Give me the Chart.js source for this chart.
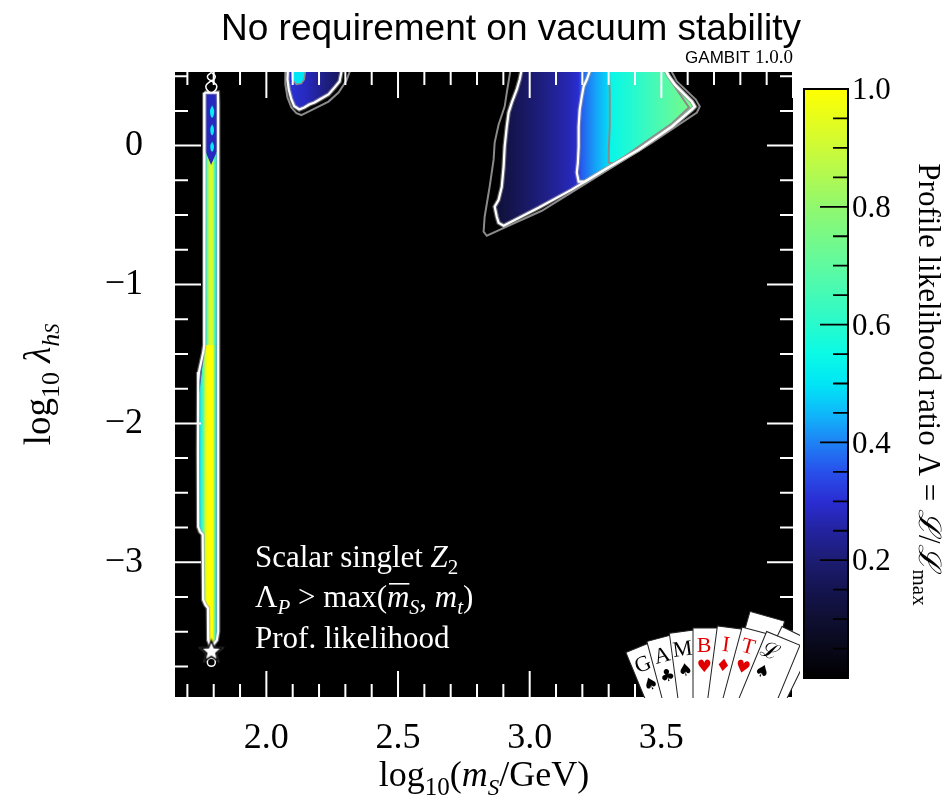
<!DOCTYPE html>
<html>
<head>
<meta charset="utf-8">
<script src="https://cdn.jsdelivr.net/npm/chart.js"></script>
<style>
  html, body { margin: 0; padding: 0; background: #fff; }
  #wrap { width: 944px; height: 801px; }
</style>
</head>
<body>
<div id="wrap"><canvas id="plot" width="944" height="801"></canvas></div>
<script>
// axes
const xRange = [1.653, 4.0];
const yRange = [-3.97, 0.53];
const xMajorTicks = [2.0, 2.5, 3.0, 3.5];
const xTickLabels = ['2.0', '2.5', '3.0', '3.5'];
const yMajorTicks = [0, -1, -2, -3];
const yTickLabels = ['0', '\u22121', '\u22122', '\u22123'];
const cbarTicks = [0.2, 0.4, 0.6, 0.8, 1.0];
const cbarTickLabels = ['0.2', '0.4', '0.6', '0.8', '1.0'];

// colour map: likelihood ratio -> rgb
const cmapStops = [
  [0.00, [0, 0, 0]], [0.05, [8, 8, 25]], [0.10, [15, 15, 50]], [0.15, [20, 20, 80]],
  [0.20, [28, 28, 115]], [0.25, [35, 35, 160]], [0.30, [42, 45, 210]], [0.35, [40, 80, 235]],
  [0.40, [30, 130, 245]], [0.45, [15, 185, 250]], [0.50, [0, 230, 245]], [0.55, [10, 250, 230]],
  [0.60, [40, 250, 205]], [0.70, [95, 250, 160]], [0.80, [145, 248, 110]], [0.90, [205, 250, 55]],
  [1.00, [255, 255, 0]]
];

// big region at high mass (log10 mS, log10 lambda)
const triOuterGray = [[2.932,0.6],[2.913,0.382],[2.905,0.281],[2.882,0.152],[2.867,0.022],[2.863,-0.101],
  [2.848,-0.296],[2.829,-0.512],[2.825,-0.620],[2.837,-0.649],[2.894,-0.599],[3.046,-0.469],[3.274,-0.202],
  [3.464,0.022],[3.635,0.238],[3.646,0.281],[3.631,0.332],[3.559,0.462],[3.52,0.6]];
const triOuterWhite = [[2.975,0.6],[2.962,0.476],[2.951,0.404],[2.932,0.310],[2.920,0.238],[2.913,0.137],
  [2.905,-0.007],[2.901,-0.152],[2.894,-0.296],[2.882,-0.390],[2.867,-0.440],[2.875,-0.512],[2.882,-0.556],
  [2.901,-0.577],[3.034,-0.447],[3.160,-0.317],[3.285,-0.173],[3.414,-0.029],[3.540,0.137],[3.616,0.260],
  [3.627,0.281],[3.616,0.317],[3.551,0.440],[3.529,0.498],[3.50,0.6]];
const triInnerWhite = [[3.24,0.6],[3.217,0.476],[3.205,0.426],[3.198,0.354],[3.190,0.260],[3.186,0.137],
  [3.186,-0.007],[3.183,-0.123],[3.179,-0.195],[3.186,-0.260],[3.209,-0.260],[3.285,-0.173],[3.414,-0.029],
  [3.540,0.137],[3.616,0.260],[3.627,0.281],[3.616,0.317],[3.551,0.440],[3.529,0.498],[3.50,0.6]];
const triInnerGray = [[3.300,0.6],[3.304,0.382],[3.304,0.137],[3.300,-0.051],[3.300,-0.123],[3.323,-0.130],
  [3.414,-0.007],[3.540,0.159],[3.605,0.274],[3.551,0.426],[3.50,0.6]];
const triProfile = [[2.89,0.12],[2.97,0.17],[3.06,0.22],[3.15,0.27],[3.185,0.30],[3.195,0.36],[3.25,0.43],
  [3.295,0.48],[3.305,0.54],[3.40,0.60],[3.50,0.67],[3.63,0.76]];

// small region near 2.1-2.3
const blobWhite = [[2.083,0.6],[2.080,0.476],[2.085,0.404],[2.095,0.332],[2.106,0.284],[2.125,0.260],
  [2.144,0.274],[2.163,0.296],[2.183,0.310],[2.209,0.339],[2.236,0.368],[2.259,0.418],[2.278,0.462],[2.292,0.6]];
const blobGray = [[2.072,0.6],[2.072,0.440],[2.080,0.346],[2.095,0.274],[2.114,0.234],[2.133,0.220],
  [2.160,0.245],[2.198,0.281],[2.236,0.317],[2.274,0.382],[2.304,0.469],[2.330,0.6]];
const blobSpot = [[2.094,0.6],[2.098,0.476],[2.114,0.440],[2.133,0.447],[2.144,0.476],[2.153,0.6]];
const blobProfile = [[2.08,0.31],[2.15,0.28],[2.22,0.22],[2.29,0.16]];
const blobSpotLevel = 0.5;

// Higgs funnel strip
const stripOutline = [[1.765,0.382],[1.764,0.30],[1.764,-1.436],[1.760,-1.49],[1.752,-1.56],[1.744,-1.63],
  [1.741,-1.70],[1.740,-2.20],[1.741,-2.745],[1.748,-2.780],[1.758,-2.800],[1.760,-3.270],[1.768,-3.305],
  [1.778,-3.330],[1.779,-3.560],[1.785,-3.590],[1.800,-3.590],[1.812,-3.560],[1.817,-3.50],[1.817,0.30],[1.816,0.382]];
const stripUpper = [[1.764,0.382],[1.764,-1.436],[1.817,-1.436],[1.817,0.382]];
const stripLower = [[1.764,-1.436],[1.760,-1.49],[1.752,-1.56],[1.744,-1.63],[1.741,-1.70],[1.740,-2.20],
  [1.741,-2.745],[1.748,-2.780],[1.758,-2.800],[1.760,-3.270],[1.768,-3.305],[1.778,-3.330],[1.779,-3.560],
  [1.785,-3.590],[1.800,-3.590],[1.812,-3.560],[1.817,-3.50],[1.817,-1.436]];
const stripUpperProfile = [[1.764,0.5],[1.772,0.62],[1.782,0.88],[1.791,0.95],[1.798,0.88],[1.804,0.62],[1.810,0.5],[1.817,0.4]];
const stripLowerProfile = [[1.741,0.45],[1.752,0.55],[1.762,0.75],[1.770,0.95],[1.778,1.0],[1.796,1.0],[1.802,0.78],[1.808,0.52],[1.817,0.38]];
const stripPatch = [[1.764,-1.42],[1.758,-1.50],[1.750,-1.58],[1.743,-1.66],[1.743,-1.80],[1.748,-1.74],[1.755,-1.62],[1.762,-1.52]];
const stripPatchLevel = 0.25;
const stripBeads = [[1.765,0.382],[1.764,-0.02],[1.790,-0.14],[1.817,-0.02],[1.816,0.382]];
const stripBeadLevel = 0.28;
const beadCores = [
  [[1.794,0.29],[1.802,0.245],[1.794,0.20],[1.786,0.245]],
  [[1.794,0.155],[1.801,0.115],[1.794,0.075],[1.787,0.115]],
  [[1.794,0.03],[1.801,-0.007],[1.794,-0.045],[1.787,-0.007]]
];
const beadCoreLevel = 0.52;
const topRings = [
  [[1.791,0.527],[1.806,0.498],[1.791,0.469],[1.776,0.498]],
  [[1.791,0.469],[1.812,0.426],[1.791,0.383],[1.770,0.426]]
];
const bestFit = [1.791, -3.636];
const meanPoint = [1.791, -3.72];

function cmap(v) {
  for (let i = 1; i < cmapStops.length; i++) {
    const [v1, c1] = cmapStops[i], [v0, c0] = cmapStops[i - 1];
    if (v <= v1) {
      const t = (v - v0) / (v1 - v0);
      return 'rgb(' + c0.map((c, k) => Math.round(c + (c1[k] - c) * t)).join(',') + ')';
    }
  }
  return 'rgb(255,255,0)';
}

function profileFill(profile) {
  return (c) => {
    const chart = c.chart;
    if (!chart.chartArea) return 'rgba(0,0,0,0)';
    const sx = chart.scales.x;
    const x0 = sx.getPixelForValue(profile[0][0]);
    const x1 = sx.getPixelForValue(profile[profile.length - 1][0]);
    const g = chart.ctx.createLinearGradient(x0, 0, x1, 0);
    profile.forEach(([xv, lv]) => g.addColorStop((sx.getPixelForValue(xv) - x0) / (x1 - x0), cmap(lv)));
    return g;
  };
}

const pts = poly => poly.concat([poly[0]]).map(([x, y]) => ({x, y}));
const fillSet = (poly, color, tension) => ({
  data: pts(poly), showLine: true, fill: 'shape', backgroundColor: color,
  borderColor: 'rgba(0,0,0,0)', borderWidth: 0, pointRadius: 0, tension: tension || 0
});
const lineSet = (poly, color, width) => ({
  data: pts(poly), showLine: true, fill: false, borderColor: color, borderWidth: width, pointRadius: 0
});

const white = '#ffffff', gray = '#8a8a8a', halo = 'rgba(160,160,160,0.55)';
const datasets = [
  fillSet(triOuterWhite, profileFill(triProfile)),
  fillSet(blobWhite, profileFill(blobProfile)),
  fillSet(blobSpot, cmap(blobSpotLevel)),
  fillSet(stripUpper, profileFill(stripUpperProfile)),
  fillSet(stripLower, profileFill(stripLowerProfile)),
  fillSet(stripPatch, cmap(stripPatchLevel), 0.3),
  fillSet(stripBeads, cmap(stripBeadLevel)),
  ...beadCores.map(b => fillSet(b, cmap(beadCoreLevel), 0.5)),
  lineSet(triOuterGray, gray, 2),
  lineSet(triInnerGray, gray, 2),
  lineSet(blobGray, gray, 2),
  lineSet(blobSpot, gray, 1.5),
  ...[triOuterWhite, triInnerWhite, blobWhite, stripOutline].map(p => lineSet(p, halo, 4.5)),
  ...[triOuterWhite, triInnerWhite, blobWhite, stripOutline].map(p => lineSet(p, white, 2.2)),
  ...topRings.map(r => Object.assign(fillSet(r, '#000', 0.5), {borderColor: white, borderWidth: 1.5}))
];

// best fit star
const star = document.createElement('canvas');
star.width = 30; star.height = 30;
(function () {
  const c = star.getContext('2d');
  const path = (r) => {
    c.beginPath();
    for (let k = 0; k < 10; k++) {
      const a = -Math.PI / 2 + k * Math.PI / 5, rr = k % 2 ? r * 0.45 : r;
      c.lineTo(15 + rr * Math.cos(a), 16 + rr * Math.sin(a));
    }
    c.closePath();
  };
  path(14); c.fillStyle = 'rgba(90,90,90,0.7)'; c.fill();
  path(10.5); c.fillStyle = '#fff'; c.fill(); c.strokeStyle = '#000'; c.lineWidth = 1.2; c.stroke();
})();
datasets.push({data: [{x: meanPoint[0], y: meanPoint[1]}], pointStyle: 'circle', pointRadius: 4,
  backgroundColor: '#000', borderColor: '#fff', borderWidth: 1.5, showLine: false});
datasets.push({data: [{x: bestFit[0], y: bestFit[1]}], pointStyle: star, pointRadius: 10, showLine: false});
datasets.forEach((d, i) => { d.order = datasets.length - i; });

const serif = '"Liberation Serif", "DejaVu Serif", serif';
const R = s => s + 'px ' + serif;
const I = s => 'italic ' + s + 'px ' + serif;

function drawRich(ctx, parts, x, y, align) {
  let w = 0;
  parts.forEach(p => { ctx.font = p[1]; w += ctx.measureText(p[0]).width; });
  let cx = align === 'center' ? x - w / 2 : x;
  parts.forEach(p => {
    ctx.font = p[1];
    const pw = ctx.measureText(p[0]).width;
    ctx.fillText(p[0], cx, y + (p[2] || 0));
    if (p[3] === 'ov') {
      ctx.fillRect(cx + 2, y - 24, pw - 2, 1.6);
    }
    cx += pw;
  });
}

const plotBg = {
  id: 'plotBg',
  beforeDatasetsDraw(chart) {
    const {ctx, chartArea: a} = chart;
    ctx.save();
    ctx.fillStyle = '#000';
    ctx.fillRect(a.left, a.top, a.right - a.left, a.bottom - a.top);
    ctx.restore();
  }
};

const tickMarks = {
  id: 'tickMarks',
  afterDatasetsDraw(chart) {
    const {ctx, chartArea: a, scales: {x, y}} = chart;
    ctx.save();
    ctx.strokeStyle = '#fff';
    ctx.lineWidth = 2;
    ctx.beginPath();
    for (let k = Math.ceil(xRange[0] * 10); k <= Math.floor(xRange[1] * 10); k++) {
      const px = x.getPixelForValue(k / 10);
      const len = k % 5 === 0 ? 26 : 13;
      ctx.moveTo(px, a.bottom); ctx.lineTo(px, a.bottom - len);
      ctx.moveTo(px, a.top); ctx.lineTo(px, a.top + len);
    }
    for (let k = Math.ceil(yRange[0] * 4); k <= Math.floor(yRange[1] * 4); k++) {
      const py = y.getPixelForValue(k / 4);
      const len = k % 4 === 0 ? 26 : 13;
      ctx.moveTo(a.left, py); ctx.lineTo(a.left + len, py);
      ctx.moveTo(a.right, py); ctx.lineTo(a.right - len, py);
    }
    ctx.stroke();
    ctx.restore();
  }
};

const decorations = {
  id: 'decorations',
  afterDraw(chart) {
    const {ctx, chartArea: a} = chart;
    ctx.save();
    // title
    ctx.fillStyle = '#000';
    ctx.textAlign = 'center';
    ctx.textBaseline = 'alphabetic';
    ctx.font = '37px "Liberation Sans", Arial, sans-serif';
    ctx.fillText('No requirement on vacuum stability', 511, 40);
    ctx.textAlign = 'right';
    ctx.font = R(19);
    ctx.fillText('1.0.0', a.right, 63);
    const vw = ctx.measureText('1.0.0 ').width;
    ctx.font = '17px "Liberation Sans", Arial, sans-serif';
    ctx.fillText('GAMBIT', a.right - vw, 63);

    // axis titles
    ctx.textAlign = 'left';
    drawRich(ctx, [['log', R(36)], ['10', R(25), 9], ['(', R(36)], ['m', I(36)], ['S', I(23), 9], ['/GeV)', R(36)]],
      (a.left + a.right) / 2, 786, 'center');
    ctx.save();
    ctx.translate(50, (a.top + a.bottom) / 2);
    ctx.rotate(-Math.PI / 2);
    drawRich(ctx, [['log', R(37)], ['10', R(26), 9], [' ', R(37)], ['\u03bb', I(37)], ['h', I(26), 9], ['S', I(20), 9]], 0, 0, 'center');
    ctx.restore();

    // annotation
    ctx.fillStyle = '#fff';
    drawRich(ctx, [['Scalar singlet ', R(31)], ['Z', I(31)], ['2', R(21), 7]], 255, 567);
    drawRich(ctx, [['\u039b', R(31)], ['P', I(21), 7], [' > max(', R(31)], ['m', I(31), 0, 'ov'], ['S', I(20), 7],
      [', ', R(31)], ['m', I(31)], ['t', I(21), 7], [')', R(31)]], 255, 607);
    drawRich(ctx, [['Prof. likelihood', R(31)]], 255, 648);

    // colour bar
    const cb = {l: a.right + 11, r: a.right + 55, t: 89, b: 678};
    const g = ctx.createLinearGradient(0, cb.b, 0, cb.t);
    cmapStops.forEach(([v]) => g.addColorStop(v, cmap(v)));
    ctx.fillStyle = g;
    ctx.fillRect(cb.l, cb.t, cb.r - cb.l, cb.b - cb.t);
    ctx.strokeStyle = '#000';
    ctx.lineWidth = 2;
    ctx.strokeRect(cb.l, cb.t, cb.r - cb.l, cb.b - cb.t);
    ctx.beginPath();
    for (let k = 1; k < 20; k++) {
      const py = cb.b - (k / 20) * (cb.b - cb.t);
      const len = k % 4 === 0 ? 28 : 15;
      ctx.moveTo(cb.r, py); ctx.lineTo(cb.r - len, py);
    }
    ctx.lineWidth = 1.8;
    ctx.stroke();
    ctx.fillStyle = '#000';
    ctx.textBaseline = 'middle';
    ctx.font = R(31);
    cbarTicks.forEach((v, i) => ctx.fillText(cbarTickLabels[i], cb.r + 4, cb.b - v * (cb.b - cb.t) + 2));
    ctx.textBaseline = 'alphabetic';
    ctx.save();
    ctx.translate(919, (a.top + a.bottom) / 2);
    ctx.rotate(Math.PI / 2);
    drawRich(ctx, [['Profile likelihood ratio \u039b = ', R(31)], ['\u2112', I(31)], ['/', R(31)], ['\u2112', I(31)], ['max', R(21), 6]], 0, 0, 'center');
    ctx.restore();

    // GAMBIT cards logo
    ctx.save();
    ctx.beginPath();
    ctx.rect(600, 590, 200, a.bottom + 1 - 590);
    ctx.clip();
    const px = 706, py = 812;
    const card = (ang, topR, letter, suit, red) => {
      ctx.save();
      ctx.translate(px, py);
      ctx.rotate(ang * Math.PI / 180);
      ctx.fillStyle = '#fff';
      ctx.strokeStyle = '#222';
      ctx.lineWidth = 1;
      ctx.fillRect(-13, -topR, 36, topR - 60);
      ctx.strokeRect(-13, -topR, 36, topR - 60);
      if (letter) {
        ctx.fillStyle = red ? '#e00000' : '#000';
        ctx.textAlign = 'center';
        ctx.font = '22px ' + serif;
        ctx.fillText(letter, -2, -topR + 24);
        ctx.font = '17px "DejaVu Sans", sans-serif';
        ctx.fillText(suit, -2, -topR + 44);
      }
      ctx.restore();
    };
    card(16, 205); card(26, 200);
    const letters = ['G', 'A', 'M', 'B', 'I', 'T', '\u2112'];
    const suits = ['\u2660', '\u2663', '\u2660', '\u2665', '\u2666', '\u2665', '\u2660'];
    letters.forEach((L, i) => card(-22.5 + 7.5 * i, 178 + i * 2, L, suits[i], i >= 3 && i <= 5));
    ctx.restore();
    ctx.restore();
  }
};

new Chart(document.getElementById('plot'), {
  type: 'scatter',
  data: {datasets},
  options: {
    responsive: false,
    animation: false,
    layout: {padding: {left: 0, right: 151, top: 72, bottom: 0}},
    plugins: {legend: {display: false}, tooltip: {enabled: false}, title: {display: false}},
    elements: {point: {radius: 0}},
    scales: {
      x: {
        type: 'linear', min: xRange[0], max: xRange[1],
        grid: {display: false, drawTicks: false}, border: {display: false},
        afterBuildTicks: s => { s.ticks = xMajorTicks.map(v => ({value: v})); },
        afterFit: s => { s.height = 104; },
        ticks: {callback: (v, i) => xTickLabels[i], font: {family: serif, size: 36}, color: '#000',
          padding: 20, maxRotation: 0, autoSkip: false}
      },
      y: {
        type: 'linear', min: yRange[0], max: yRange[1],
        grid: {display: false, drawTicks: false}, border: {display: false},
        afterBuildTicks: s => { s.ticks = yMajorTicks.map(v => ({value: v})); },
        afterFit: s => { s.width = 175; },
        ticks: {callback: (v, i) => yTickLabels[i], font: {family: serif, size: 36}, color: '#000',
          padding: 32, autoSkip: false}
      }
    }
  },
  plugins: [plotBg, tickMarks, decorations]
});
</script>
</body>
</html>
